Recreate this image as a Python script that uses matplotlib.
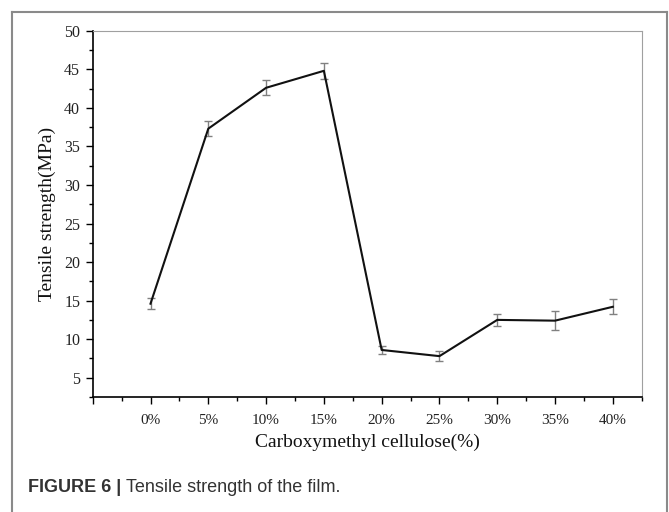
import matplotlib.pyplot as plt
from matplotlib.lines import Line2D
from matplotlib.ticker import MultipleLocator

# data
cmc_pct = [0, 5, 10, 15, 20, 25, 30, 35, 40]
tensile = [14.6, 37.3, 42.6, 44.8, 8.6, 7.8, 12.5, 12.4, 14.2]
tensile_err = [0.7, 0.95, 1.0, 1.0, 0.5, 0.65, 0.8, 1.2, 0.95]
tick_labels = ['%d%%' % c for c in cmc_pct]

fig = plt.figure(figsize=(6.69, 5.12), dpi=100)
ax = fig.add_axes([0.1386, 0.2246, 0.8206, 0.7154])

serif = 'Liberation Serif'

ax.errorbar(cmc_pct, tensile, yerr=tensile_err, fmt='none', ecolor='#808080',
            elinewidth=1.0, capsize=3, capthick=1.0, zorder=2)
ax.plot(cmc_pct, tensile, color='#111111', lw=1.5, zorder=3)

ax.set_xlim(-5, 42.5)
ax.set_ylim(2.5, 50)

ax.set_xticks([-5] + cmc_pct)
ax.set_xticklabels([''] + tick_labels)
ax.xaxis.set_minor_locator(MultipleLocator(2.5))
ax.yaxis.set_minor_locator(MultipleLocator(2.5))
ax.set_yticks(range(5, 51, 5))

ax.tick_params(which='major', direction='out', length=5, width=1, color='black',
               labelsize=11.5, pad=4)
ax.tick_params(which='minor', direction='out', length=3, width=1, color='black')
ax.tick_params(axis='x', which='major', labelsize=11, pad=7)
for lab in ax.get_xticklabels() + ax.get_yticklabels():
    lab.set_fontfamily(serif)
    lab.set_color('#222222')

for side in ['top', 'right']:
    ax.spines[side].set_color('#a0a0a0')
for side in ['left', 'bottom']:
    ax.spines[side].set_color('black')
    ax.spines[side].set_linewidth(1.2)

ax.set_xlabel('Carboxymethyl cellulose(%)', fontfamily=serif, fontsize=14,
              labelpad=5, color='#111111')
ax.set_ylabel('Tensile strength(MPa)', fontfamily=serif, fontsize=14,
              labelpad=6, color='#111111')

# outer frame of the figure panel
W, H = 669.0, 512.0
frame = dict(color='#8a8a8a', lw=1.5, transform=fig.transFigure)
fig.add_artist(Line2D([12 / W, 12 / W], [0, 1 - 12 / H], **frame))
fig.add_artist(Line2D([12 / W, 667 / W], [1 - 12 / H, 1 - 12 / H], **frame))
fig.add_artist(Line2D([667 / W, 667 / W], [0, 1 - 12 / H], **frame))

# caption
cap = fig.text(28 / W, 1 - 487 / H, 'FIGURE 6 | ', fontfamily='Liberation Sans',
               fontweight='bold', fontsize=13, va='center', color='#333333')
fig.canvas.draw()
bb = cap.get_window_extent()
fig.text(bb.x1 / fig.bbox.width, 1 - 487 / H, 'Tensile strength of the film.',
         fontfamily='Liberation Sans', fontsize=13, va='center', color='#333333')

fig.savefig('out.png', dpi=100)
